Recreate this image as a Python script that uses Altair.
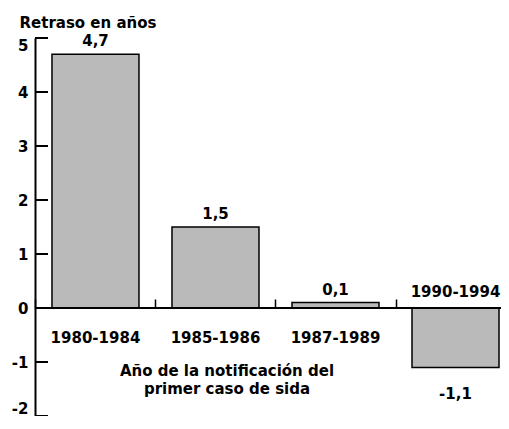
import altair as alt
import pandas as pd

categories = ["1980-1984", "1985-1986", "1987-1989", "1990-1994"]
values = [4.7, 1.5, 0.1, -1.1]
y_ticks = [-2, -1, 0, 1, 2, 3, 4, 5]
y_title = "Retraso en años"
x_title_lines = ["Año de la notificación del", "primer caso de sida"]

df = pd.DataFrame({"cat": categories, "value": values})
df_ticks = pd.DataFrame({"value": y_ticks})
df_zero = pd.DataFrame({"value": [0]})

FONT = "DejaVu Sans"
FS = 15
H = 378
W = 466
zero_px = H * 5 / 7

yscale = alt.Scale(domain=[-2, 5], nice=False, zero=False)
xscale = alt.Scale(paddingInner=0.275, paddingOuter=0.079, align=0.895)

xenc = alt.X(
    "cat:N", sort=categories, scale=xscale, title=None,
    axis=alt.Axis(orient="top", offset=-zero_px, labels=False, domain=False,
                  ticks=True, bandPosition=0, tickOffset=-16.5, tickSize=9,
                  tickWidth=1.5, tickColor="black", grid=False, title=None),
)

yaxis = alt.Axis(values=y_ticks, ticks=False, grid=False, domain=True,
                 domainColor="black", domainWidth=2, labelFlush=True,
                 labelExpr="'' + datum.value", labelFont=FONT,
                 labelFontSize=FS, labelFontWeight="bold",
                 labelColor="black", labelPadding=7,
                 title=y_title, titleAngle=0, titleAlign="left",
                 titleBaseline="alphabetic", titleX=-16, titleY=-11,
                 titleFont=FONT, titleFontSize=FS,
                 titleFontWeight="bold", titleColor="black")

base = alt.Chart(df).encode(x=xenc)

bars = base.mark_bar(fill="#bababa", stroke="black", strokeWidth=1.5).encode(
    y=alt.Y("value:Q", scale=yscale, axis=yaxis, title=y_title),
)

label_calc = "replace(replace(format(datum.value, '.1f'), '.', ','), '\u2212', '-')"

val_pos = base.transform_filter("datum.value >= 0").transform_calculate(
    lab=label_calc
).mark_text(font=FONT, fontSize=FS, fontWeight="bold", color="black",
            baseline="alphabetic", dy=-8).encode(
    y=alt.Y("value:Q", scale=yscale, axis=yaxis, title=y_title), text="lab:N")

val_neg = base.transform_filter("datum.value < 0").transform_calculate(
    lab=label_calc
).mark_text(font=FONT, fontSize=FS, fontWeight="bold", color="black",
            baseline="alphabetic", dy=32).encode(
    y=alt.Y("value:Q", scale=yscale, axis=yaxis, title=y_title), text="lab:N")

cat_pos = base.transform_filter("datum.value >= 0").mark_text(
    font=FONT, fontSize=FS, fontWeight="bold", color="black",
    baseline="alphabetic", dy=35).encode(
    y=alt.Y(datum=0, scale=yscale, axis=yaxis, title=y_title), text="cat:N")

cat_neg = base.transform_filter("datum.value < 0").mark_text(
    font=FONT, fontSize=FS, fontWeight="bold", color="black",
    baseline="alphabetic", dy=-11).encode(
    y=alt.Y(datum=0, scale=yscale, axis=yaxis, title=y_title), text="cat:N")

zero_rule = alt.Chart(df_zero).mark_rule(color="black", strokeWidth=2).encode(
    y=alt.Y("value:Q", scale=yscale, axis=yaxis, title=y_title))

tick_rules = alt.Chart(df_ticks).mark_rule(color="black", strokeWidth=2).encode(
    y=alt.Y("value:Q", scale=yscale, axis=yaxis, title=y_title),
    x=alt.value(0), x2=alt.value(13))

xtitle = alt.Chart(df_zero).mark_text(
    font=FONT, fontSize=FS, fontWeight="bold", color="black",
    baseline="alphabetic", align="center", lineHeight=18, dy=68).encode(
    x=alt.value(192),
    y=alt.Y("value:Q", scale=yscale, axis=yaxis, title=y_title),
    text=alt.value(x_title_lines))

chart = alt.layer(bars, zero_rule, tick_rules, val_pos, val_neg, cat_pos,
                  cat_neg, xtitle).properties(
    width=W, height=H, background="white",
    autosize=alt.AutoSizeParams(type="none"),
    padding={"left": 27, "top": 30, "right": 0, "bottom": 0},
).configure_view(stroke=None).configure_axis(grid=False)

chart.save("out.html", embed_options={"renderer": "svg", "actions": False})
